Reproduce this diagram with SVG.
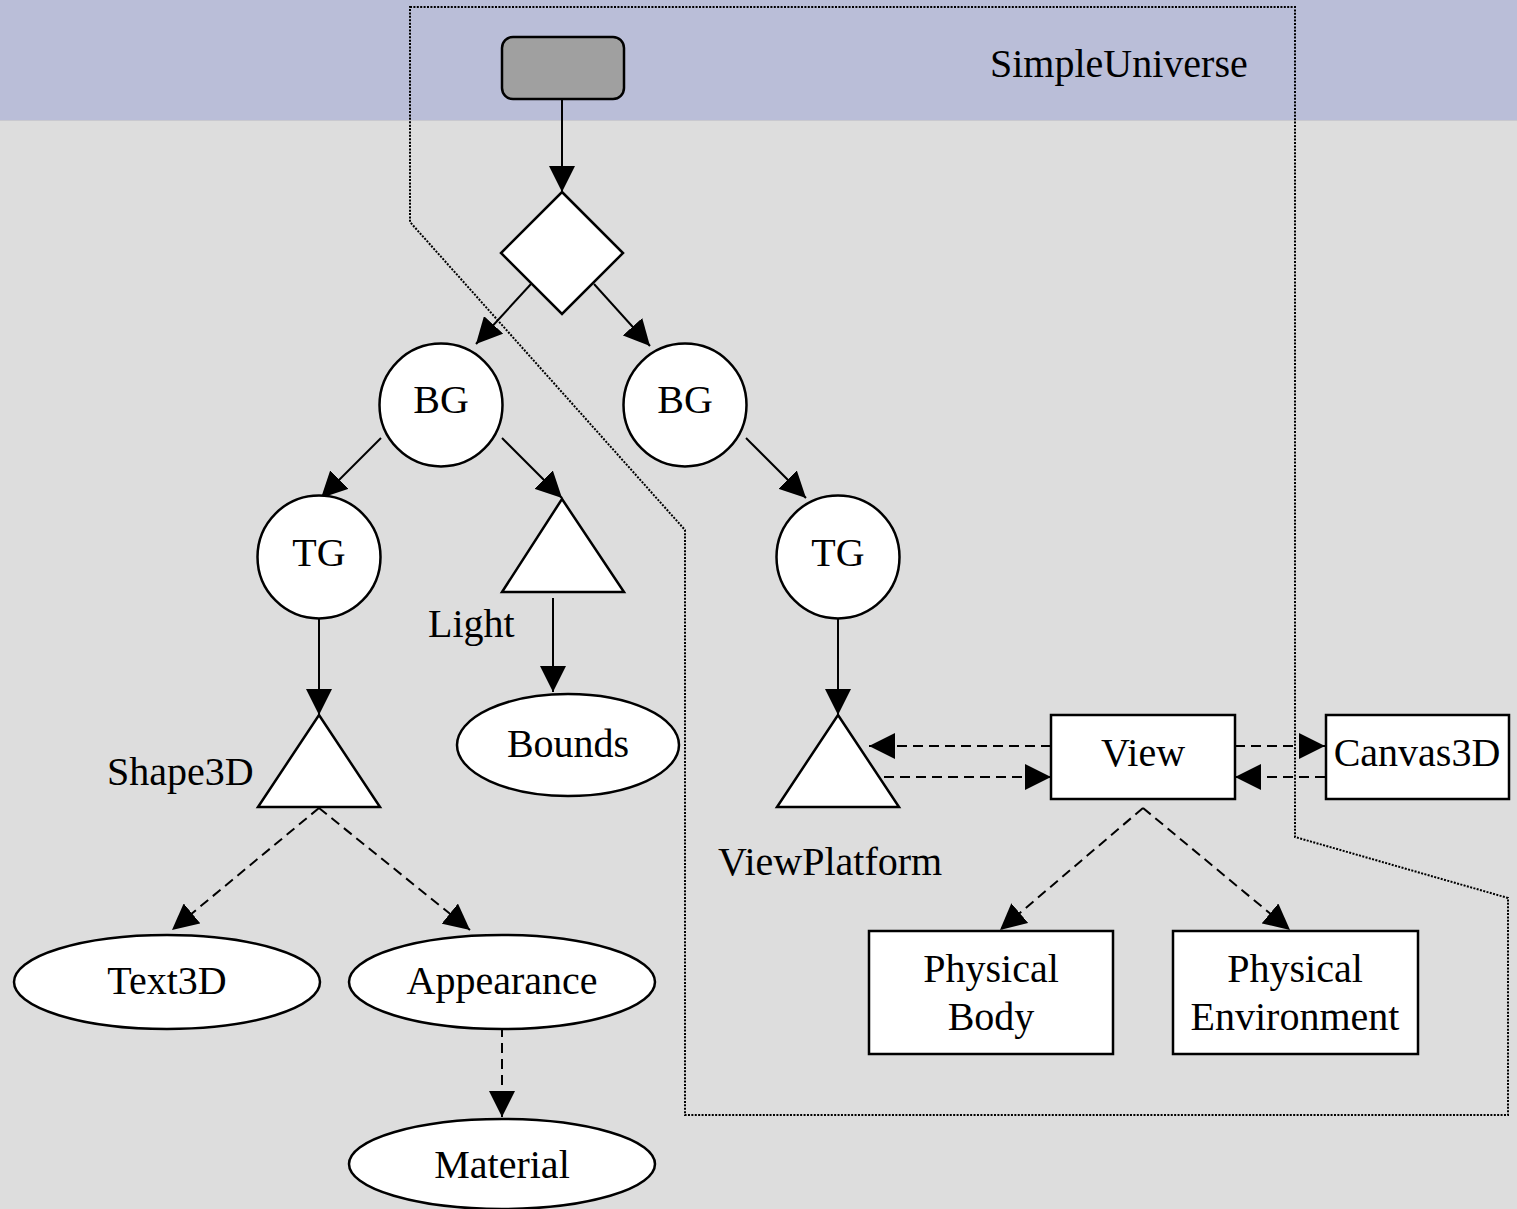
<svg xmlns="http://www.w3.org/2000/svg" width="1517" height="1209" viewBox="0 0 1517 1209">
  <defs>
    <marker id="arrow" markerUnits="userSpaceOnUse" markerWidth="27" markerHeight="26" refX="26" refY="13" orient="auto">
      <path d="M0,0 L26,13 L0,26 z" fill="#000"/>
    </marker>
    <style>
      .shape { fill: #fff; stroke: #000; stroke-width: 2.5; }
      .edge { fill: none; stroke: #000; stroke-width: 2; marker-end: url(#arrow); }
      .dash { stroke-dasharray: 10 6; }
      .boundary { fill: none; stroke: #000; stroke-width: 2; stroke-dasharray: 2 1.4; }
      text { font-family: "Liberation Serif", "Times New Roman", serif; font-size: 40px; fill: #000; }
      .c { text-anchor: middle; }
    </style>
  </defs>

  <!-- background: universe band and scene area -->
  <rect x="0" y="0" width="1517" height="1209" fill="#DDDDDD"/>
  <rect x="0" y="0" width="1517" height="120" fill="#BABED8"/>
  <line x1="0" y1="120.5" x2="1517" y2="120.5" stroke="#C9C9CF" stroke-width="1"/>
  <text x="990" y="77">SimpleUniverse</text>

  <!-- dotted outline of the SimpleUniverse-provided part -->
  <path class="boundary" d="M410,7 L1295,7 L1295,837 L1508,898 L1508,1115 L685,1115 L685,530 L410,222 Z"/>

  <g id="connectors">
    <line class="edge" x1="562" y1="100" x2="562" y2="192"/>
    <line class="edge" x1="531" y1="284" x2="476" y2="344"/>
    <line class="edge" x1="594" y1="284" x2="650" y2="346"/>
    <line class="edge" x1="381" y1="438" x2="321" y2="498"/>
    <line class="edge" x1="502" y1="438" x2="562" y2="498"/>
    <line class="edge" x1="746" y1="438" x2="806" y2="498"/>
    <line class="edge" x1="319" y1="618" x2="319" y2="715"/>
    <line class="edge" x1="553" y1="598" x2="553" y2="692"/>
    <line class="edge" x1="838" y1="618" x2="838" y2="715"/>
    <line class="edge dash" x1="319" y1="808" x2="172" y2="930"/>
    <line class="edge dash" x1="319" y1="808" x2="470" y2="930"/>
    <line class="edge dash" x1="502" y1="1027" x2="502" y2="1117"/>
    <line class="edge dash" x1="1051" y1="746" x2="869" y2="746"/>
    <line class="edge dash" x1="884" y1="777" x2="1051" y2="777"/>
    <line class="edge dash" x1="1235" y1="746" x2="1325" y2="746"/>
    <line class="edge dash" x1="1325" y1="777" x2="1235" y2="777"/>
    <line class="edge dash" x1="1143" y1="808" x2="1000" y2="930"/>
    <line class="edge dash" x1="1143" y1="808" x2="1290" y2="930"/>
  </g>

  <g id="universe-root">
    <rect x="502" y="37" width="122" height="62" rx="11" ry="11" fill="#A0A0A0" stroke="#000" stroke-width="2.5"/>
  </g>
  <g id="locale">
    <polygon class="shape" points="562,192 623,253 562,314 501,253"/>
  </g>
  <g id="bg-content">
    <circle class="shape" cx="441" cy="405" r="61.5"/>
    <text class="c" x="441" y="413">BG</text>
  </g>
  <g id="bg-view">
    <circle class="shape" cx="685" cy="405" r="61.5"/>
    <text class="c" x="685" y="413">BG</text>
  </g>
  <g id="tg-content">
    <circle class="shape" cx="319" cy="557" r="61.5"/>
    <text class="c" x="319" y="566">TG</text>
  </g>
  <g id="tg-view">
    <circle class="shape" cx="838" cy="557" r="61.5"/>
    <text class="c" x="838" y="566">TG</text>
  </g>
  <g id="light">
    <polygon class="shape" points="562,499 624,592 502,592"/>
    <text x="428" y="637">Light</text>
  </g>
  <g id="bounds">
    <ellipse class="shape" cx="568" cy="745" rx="111" ry="51"/>
    <text class="c" x="568" y="757">Bounds</text>
  </g>
  <g id="shape3d">
    <polygon class="shape" points="319,715 380,807 258,807"/>
    <text x="107" y="785">Shape3D</text>
  </g>
  <g id="text3d">
    <ellipse class="shape" cx="167" cy="982" rx="153" ry="47"/>
    <text class="c" x="167" y="994">Text3D</text>
  </g>
  <g id="appearance">
    <ellipse class="shape" cx="502" cy="982" rx="153" ry="47"/>
    <text class="c" x="502" y="994">Appearance</text>
  </g>
  <g id="material">
    <ellipse class="shape" cx="502" cy="1164" rx="153" ry="45"/>
    <text class="c" x="502" y="1178">Material</text>
  </g>
  <g id="view-platform">
    <polygon class="shape" points="838,715 899,807 777,807"/>
    <text x="718" y="875">ViewPlatform</text>
  </g>
  <g id="view">
    <rect class="shape" x="1051" y="715" width="184" height="84"/>
    <text class="c" x="1143" y="766">View</text>
  </g>
  <g id="canvas3d">
    <rect class="shape" x="1326" y="715" width="183" height="84"/>
    <text class="c" x="1417" y="766">Canvas3D</text>
  </g>
  <g id="physical-body">
    <rect class="shape" x="869" y="931" width="244" height="123"/>
    <text class="c" x="991" y="982">Physical</text>
    <text class="c" x="991" y="1030">Body</text>
  </g>
  <g id="physical-environment">
    <rect class="shape" x="1173" y="931" width="245" height="123"/>
    <text class="c" x="1295" y="982">Physical</text>
    <text class="c" x="1295" y="1030">Environment</text>
  </g>
</svg>
